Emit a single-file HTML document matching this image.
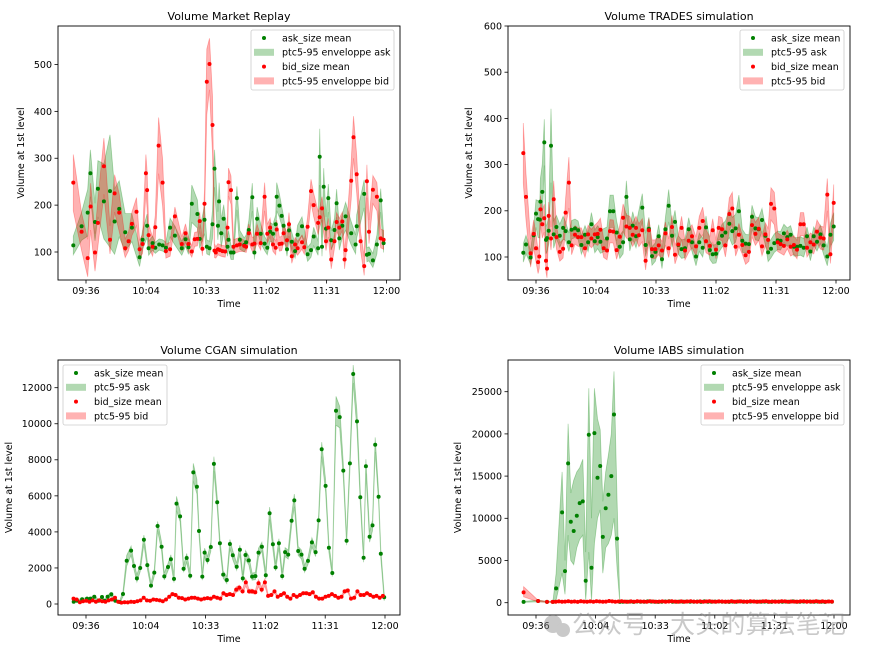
<!DOCTYPE html>
<html><head><meta charset="utf-8">
<style>
html,body{margin:0;padding:0;background:#fff;}
svg{display:block;font-family:"DejaVu Sans","Liberation Sans",sans-serif;}
</style></head>
<body>
<svg id="fig" width="874" height="658" viewBox="0 0 874 658" xmlns="http://www.w3.org/2000/svg"></svg>
<script>
// ---------- shared tick data ----------
const xTickLabels = ['09:36','10:04','10:33','11:02','11:31','12:00'];
const xTickMinutes = [0,28.8,57.6,86.4,115.2,144];

// ---------- Panel 1: Market Replay (minutes after 09:36) ----------
const p1AskMinutes = [-6.1,-2.1,0.8,2.1,4.3,5.7,8.6,11.5,13.7,15.9,18.8,22.0,25.7,27.1,29.3,30.0,31.9,33.2,35.1,36.7,38.3,40.3,42.6,45.9,47.7,49.1,50.7,53.4,54.5,56.8,57.9,59.2,60.6,61.6,63.2,63.8,64.8,66.0,67.8,68.3,69.5,70.7,72.3,73.7,75.8,76.7,78.0,79.7,80.7,82.0,83.7,85.6,86.9,88.2,89.6,90.9,91.4,92.7,93.8,94.7,96.3,97.3,98.6,100.2,101.4,103.5,106.2,107.8,109.1,111.2,112.0,113.1,113.9,115.0,116.1,117.5,119.1,120.1,121.4,122.8,124.4,127.1,129.2,129.7,133.3,134.6,135.6,137.5,139.4,141.2,142.6];
const p1Ask = [114,155,184,268,164,235,208,230,165,192,142,152,89,126,156,108,119,109,116,114,109,152,135,108,127,110,203,181,128,169,111,108,159,278,156,208,140,171,111,126,99,99,215,126,115,121,147,217,99,171,139,118,109,143,139,159,218,199,177,156,106,146,122,102,137,155,95,104,133,108,303,111,239,150,215,125,147,204,129,156,176,140,116,155,224,94,96,82,116,210,119];
const p1AskSpread = [20,30,50,50,40,60,80,120,70,60,40,30,20,20,25,15,15,12,12,12,12,20,20,15,15,15,40,30,20,30,15,15,30,40,30,40,30,30,20,20,15,15,25,20,15,15,20,30,15,25,20,15,15,20,20,20,30,25,20,20,15,20,20,15,20,20,15,15,20,15,60,20,40,25,30,20,25,30,25,25,30,25,20,25,30,15,15,15,20,25,20];
const p1BidMinutes = [-6.1,-2.1,0.8,2.2,4.3,5.7,8.6,11.5,13.7,15.9,18.8,20.4,22.0,24.2,25.7,27.1,28.7,29.3,30.0,31.9,33.2,34.8,36.7,38.3,40.3,42.6,45.9,47.7,49.1,50.7,52.1,53.4,54.5,55.8,56.8,57.9,59.2,60.6,61.6,62.2,63.2,64.1,65.4,66.7,67.8,68.3,69.5,70.7,72.3,73.7,75.8,76.7,78.0,79.7,80.7,82.0,83.7,85.6,86.9,88.2,89.6,90.9,91.4,92.7,93.8,94.7,96.3,97.3,98.6,100.2,101.4,103.5,104.6,106.2,107.8,109.1,111.2,112.0,113.1,115.0,116.1,117.5,119.1,120.1,121.4,122.8,123.9,124.4,127.1,128.2,129.7,131.6,133.3,134.6,135.6,137.5,139.4,141.2,142.6];
const p1Bid = [248,143,87,197,99,162,283,126,225,184,108,123,160,186,106,117,268,232,136,111,153,327,248,102,106,176,117,140,117,101,127,128,166,107,203,463,501,371,103,99,106,104,102,101,152,249,232,111,114,116,113,111,140,116,118,139,119,218,139,152,116,109,148,117,118,140,125,159,91,116,108,121,110,154,230,200,162,174,193,123,152,84,123,164,152,165,84,104,252,345,266,123,70,251,143,233,218,129,126];
const p1BidSpread = [60,40,40,50,40,50,60,30,40,40,20,20,25,30,20,20,40,40,25,20,25,60,50,15,15,20,15,20,15,12,15,15,20,15,30,70,55,60,15,12,12,12,12,12,25,30,30,15,15,15,12,12,20,15,15,20,15,30,20,20,15,15,20,15,15,20,15,25,15,15,15,15,15,20,25,25,25,20,25,20,20,20,15,20,20,20,20,20,40,45,40,20,20,35,25,30,30,20,20];

// ---------- Panel 2: TRADES ----------
const p2AskMinutes = [-6.1,-4.8,-2.6,-1.1,0,1.0,1.8,2.1,3.0,4.0,4.8,5.3,6.1,7.2,8.5,9.8,11.4,13.0,14.2,15.8,17.1,18.7,20.2,21.8,23.5,25.0,26.6,28.2,29.6,30.9,34.1,35.5,37.1,38.7,40.2,41.8,43.4,45.0,46.4,48.0,51.0,52.6,54.2,55.7,57.3,58.9,60.5,62.1,63.7,65.3,66.7,68.3,69.9,71.5,73.3,74.9,76.8,78.4,80.0,81.6,83.4,84.8,86.4,87.7,89.3,90.9,92.8,94.2,95.8,97.4,99.0,100.6,102.2,103.7,105.3,106.9,108.5,110.1,111.4,112.8,114.4,116.0,117.4,119.0,120.6,122.2,123.8,125.3,126.9,128.5,130.1,131.7,133.3,134.9,136.5,138.1,139.8,141.3,142.9];
const p2Ask = [109,127,99,147,194,182,181,220,241,348,137,141,157,341,149,165,146,163,156,132,159,162,158,126,148,132,171,134,143,133,140,199,199,153,122,132,230,138,168,145,207,126,161,102,111,145,95,160,211,146,176,126,117,119,160,132,101,132,120,164,115,106,107,130,146,153,172,156,162,199,135,129,128,187,162,160,180,146,110,118,130,136,135,151,143,148,122,122,124,120,145,112,145,133,149,125,101,148,166];
const p2AskSpread = [20,20,15,20,30,40,40,50,60,50,30,30,30,80,30,25,25,25,20,20,20,20,20,20,20,20,25,25,25,25,25,35,35,25,25,25,35,25,30,25,30,25,25,20,20,25,20,25,35,25,25,20,20,20,25,20,20,20,20,25,20,20,20,20,25,25,30,30,30,35,25,20,20,25,25,25,25,20,20,20,20,20,20,20,20,20,20,20,20,20,20,20,20,20,20,20,20,25,30];
const p2BidMinutes = [-6.1,-4.8,-2.6,-1.1,0,1.0,1.6,2.1,3.0,4.0,4.8,5.3,6.1,7.2,8.5,9.8,11.4,13.0,14.2,15.8,17.1,18.7,20.2,21.8,23.5,25.0,26.6,28.2,29.6,30.9,32.5,34.1,35.5,37.1,38.7,40.2,41.8,43.4,45.0,46.4,48.0,49.4,51.0,52.6,54.2,55.7,57.3,58.9,60.5,62.1,63.7,65.3,66.7,68.3,69.9,71.5,73.3,74.9,76.8,78.4,80.0,81.6,83.4,84.8,86.4,87.7,89.3,90.9,92.8,94.2,95.8,97.4,99.0,100.6,102.2,103.7,105.3,106.9,108.5,110.1,111.4,112.8,114.4,116.0,117.4,119.0,120.6,122.2,123.8,125.3,126.9,128.5,130.1,131.7,133.3,134.9,136.5,138.1,139.8,141.3,142.9];
const p2Bid = [325,230,108,150,119,89,101,203,171,184,92,75,189,140,225,143,111,118,196,261,125,148,143,143,119,149,140,149,150,159,119,114,156,155,115,144,185,166,163,148,163,147,158,92,158,117,117,125,114,151,119,165,105,127,163,114,135,145,123,163,178,134,124,158,116,163,160,125,193,205,122,148,126,104,111,169,150,161,123,149,137,215,205,132,128,124,138,122,126,116,171,171,120,132,127,155,142,140,235,106,217];
const p2BidSpread = [65,50,30,30,30,25,25,30,30,30,25,20,30,25,40,25,20,20,30,55,20,20,20,20,20,20,20,20,25,25,20,20,25,25,20,25,30,25,25,25,25,25,25,20,25,20,20,20,20,25,20,25,20,20,25,20,25,25,20,25,30,25,20,25,20,25,25,25,35,35,20,25,20,20,20,25,25,25,20,25,25,35,35,20,20,20,20,20,20,20,25,25,20,20,20,25,25,25,35,20,40];

// ---------- Panel 3: CGAN ----------
const p3AskMinutes = [-5.9,-4.3,-1.9,0.5,2.1,4.0,6.1,7.7,9.0,10.4,12.2,14.1,16.2,17.8,19.6,21.7,23.1,24.5,26.1,27.9,29.5,31.3,32.9,34.5,36.4,37.7,39.5,40.9,42.4,43.6,45.3,47.0,48.5,50.2,51.7,53.4,54.4,56.0,57.1,58.5,60.1,61.6,63.2,64.5,66.1,67.8,69.3,70.7,72.6,74.1,75.5,76.8,78.4,80.0,81.6,83.1,84.7,86.6,88.4,90.0,91.3,92.9,94.5,95.9,97.4,99.0,100.3,102.2,103.8,105.3,106.9,108.8,110.6,112.0,113.5,115.4,117.0,118.6,120.4,122.2,123.9,125.5,127.1,128.7,130.5,132.1,133.7,134.8,136.6,138.0,139.3,140.9,142.0,143.6];
const p3Ask = [130,185,260,300,300,400,185,390,185,400,540,185,110,555,2400,2960,2110,1420,2000,3570,2160,1020,1740,4330,3180,1530,2050,2480,1390,5570,4860,1960,2550,1570,7300,6510,4050,1520,2850,2440,3160,7770,5640,3370,1630,1330,3330,2700,2070,3010,1420,2720,2420,1520,1550,2850,3180,1590,5030,3310,2030,3370,1550,2880,2740,4620,5750,2940,2740,1960,2390,3420,2880,4640,8580,6550,3120,1720,10720,10370,7400,3510,7800,12760,10130,5920,2570,7640,3730,4360,8840,5950,2790,370];
const p3AskSpread = [50,50,50,50,50,80,50,80,50,80,100,60,60,150,300,250,200,200,200,250,200,150,200,250,250,200,200,250,200,400,300,200,250,200,500,400,250,200,250,200,250,400,300,250,200,200,250,250,200,250,200,250,250,200,200,250,250,200,350,300,200,250,200,250,250,300,350,250,250,200,200,250,250,300,400,350,250,200,800,600,400,250,400,500,500,350,250,400,300,300,400,300,250,200];
const p3Bid = [300,250,100,150,180,120,200,130,200,150,130,200,250,350,120,80,100,90,130,110,150,200,350,200,180,250,230,200,150,250,400,550,500,350,330,250,300,350,350,300,250,300,330,300,400,350,300,600,500,550,500,800,900,700,1200,700,700,650,1150,800,1200,450,500,700,400,500,600,400,300,500,400,500,600,600,550,650,400,300,300,400,450,550,450,350,400,700,750,300,350,700,500,500,600,500,400,450,350,450];
const p3BidSpread = [60,60,40,40,40,40,40,40,40,40,40,40,50,50,40,30,30,30,40,40,40,50,60,50,50,50,50,50,40,50,60,80,80,60,60,50,50,60,60,50,50,50,60,50,60,60,50,100,80,80,80,150,150,120,200,120,120,100,200,150,200,80,80,100,60,80,80,60,50,80,60,80,80,80,80,80,60,50,50,60,60,80,60,60,60,100,100,50,60,100,80,80,80,80,60,60,60,60];

// ---------- Panel 4: IABS ----------
const p4AskMinutes = [-6,1,5.3,8.2,9.7,12.6,14,15.5,16.8,18.2,19.7,21.1,22.6,24,25.5,26.8,28.2,29.7,31,32.3,33.7,35,36.4,37.7,39.2,40.5];
const p4Ask = [100,200,100,100,1700,10700,3750,16500,9600,8500,10300,11800,12000,2600,19900,4150,20100,14800,16200,7800,11200,12800,15000,22300,7600,100];
const p4AskLo = [50,100,50,50,300,3500,1000,8000,5000,4500,6500,7500,8000,200,6000,200,7000,10000,11000,3500,6500,7000,8000,10000,4000,50];
const p4AskHi = [150,300,150,200,3500,15500,5000,21200,13000,14500,15500,16000,17000,6000,25400,10000,25400,21800,20500,12000,15500,17500,20000,27400,12000,200];
const p4AskTail = [120,110,130,100,140,120,110,150,130,120,100,110,140,160,120,110,130,120,140,110,120,130,100,150,120,110,130,140,120,110,100,130,120,150,110,120,130,140,120,110,130,120,100,140,120,110,130,120,150,110,120,130,140,120,110,130,120,100,140,120];
const p4BidMinutes = [-6,1,5.3];
const p4BidHead = [1220,200,100];
const p4BidHeadLo = [700,100,50];
const p4BidHeadHi = [1900,300,150];
const p4BidTail = [100,120,150,110,130,160,120,140,100,170,130,120,150,110,180,140,120,130,200,150,110,140,160,130,120,150,110,170,140,130,120,160,140,110,130,150,120,140,160,130,110,150,120,140,170,130,120,150,110,140,160,130,120,150,140,110,130,170,120,140,150,130,110,160,140,120,130,150,170,120,140,110,130,160,150,120,140,130,110,150,160,120,140,130,170,120,150,110,140,130];

// ---------- layout ----------
const NS = 'http://www.w3.org/2000/svg';
const svg = document.getElementById('fig');
function mk(tag, attrs, parent) {
  const e = document.createElementNS(NS, tag);
  for (const k in attrs) e.setAttribute(k, attrs[k]);
  (parent || svg).appendChild(e);
  return e;
}
const GREEN = '#008000', RED = '#ff0000';

const panels = [
  {key:'market-replay', title:'Volume Market Replay', L:58,R:400,T:26,B:280, xa:86,xb:386.5, va:100,pa:252,vb:500,pb:64.5,
   yt:[100,200,300,400,500], ylx:24, legend:{x:251,y:30,w:143,lab:['ask_size mean','ptc5-95 enveloppe ask','bid_size mean','ptc5-95 enveloppe bid']}},
  {key:'trades', title:'Volume TRADES simulation', L:508,R:850,T:26,B:280, xa:536,xb:836, va:100,pa:257,vb:600,pb:26,
   yt:[100,200,300,400,500,600], ylx:472, legend:{x:740,y:30,w:104,lab:['ask_size mean','ptc5-95 ask','bid_size mean','ptc5-95 bid']}},
  {key:'cgan', title:'Volume CGAN simulation', L:58,R:400,T:360,B:615, xa:86,xb:385, va:0,pa:604,vb:12000,pb:387.7,
   yt:[0,2000,4000,6000,8000,10000,12000], ylx:12, legend:{x:63,y:365,w:104,lab:['ask_size mean','ptc5-95 ask','bid_size mean','ptc5-95 bid']}},
  {key:'iabs', title:'Volume IABS simulation', L:508,R:850,T:360,B:615, xa:536,xb:834, va:0,pa:602.7,vb:25000,pb:391.7,
   yt:[0,5000,10000,15000,20000,25000], ylx:461, legend:{x:701,y:365,w:143,lab:['ask_size mean','ptc5-95 enveloppe ask','bid_size mean','ptc5-95 enveloppe bid']}}
];

function evenMinutes(n){ const a=[]; for(let i=0;i<n;i++) a.push(-6+i*149/(n-1)); return a; }
function tailMinutes(n, start, end){ const a=[]; for(let i=0;i<n;i++) a.push(start+i*(end-start)/(n-1)); return a; }

function drawBand(g, xs, lo, hi, color, p, name) {
  let pts = [];
  for (let i=0;i<xs.length;i++) pts.push(p.x(xs[i]).toFixed(1)+','+p.y(hi[i]).toFixed(1));
  for (let i=xs.length-1;i>=0;i--) pts.push(p.x(xs[i]).toFixed(1)+','+p.y(lo[i]).toFixed(1));
  const poly = mk('polygon',{points:pts.join(' '),fill:color,'fill-opacity':0.3,stroke:color,'stroke-opacity':0.3,'stroke-width':0.8},g);
  
  
}
function drawDots(g, xs, vals, color, p, name) {
  const grp = mk('g',{},g);
  
  
  for (let i=0;i<xs.length;i++) {
    const c = mk('circle',{cx:p.x(xs[i]).toFixed(1),cy:p.y(vals[i]).toFixed(1),r:2,fill:color},grp);
    
    
  }
}
function spreadLo(v,s){ return v.map((x,i)=>x-s[i]); }
function spreadHi(v,s){ return v.map((x,i)=>x+s[i]); }

panels.forEach((p, idx) => {
  p.x = t => p.xa + t*(p.xb-p.xa)/144;
  p.y = v => p.pa + (v-p.va)*(p.pb-p.pa)/(p.vb-p.va);
  const g = mk('g',{});
  
  
  const cid = 'clip'+idx;
  const cp = mk('clipPath',{id:cid},g);
  mk('rect',{x:p.L,y:p.T,width:p.R-p.L,height:p.B-p.T},cp);
  const plot = mk('g',{'clip-path':'url(#'+cid+')'},g);
  
  

  if (idx===0) {
    drawBand(plot, p1AskMinutes, spreadLo(p1Ask,p1AskSpread), spreadHi(p1Ask,p1AskSpread), GREEN, p, 'ask-envelope');
    drawBand(plot, p1BidMinutes, spreadLo(p1Bid,p1BidSpread), spreadHi(p1Bid,p1BidSpread), RED, p, 'bid-envelope');
    drawDots(plot, p1AskMinutes, p1Ask, GREEN, p, 'ask-mean');
    drawDots(plot, p1BidMinutes, p1Bid, RED, p, 'bid-mean');
  } else if (idx===1) {
    drawBand(plot, p2AskMinutes, spreadLo(p2Ask,p2AskSpread), spreadHi(p2Ask,p2AskSpread), GREEN, p, 'ask-envelope');
    drawBand(plot, p2BidMinutes, spreadLo(p2Bid,p2BidSpread), spreadHi(p2Bid,p2BidSpread), RED, p, 'bid-envelope');
    drawDots(plot, p2AskMinutes, p2Ask, GREEN, p, 'ask-mean');
    drawDots(plot, p2BidMinutes, p2Bid, RED, p, 'bid-mean');
  } else if (idx===2) {
    const tb = evenMinutes(p3Bid.length);
    drawBand(plot, p3AskMinutes, spreadLo(p3Ask,p3AskSpread), spreadHi(p3Ask,p3AskSpread), GREEN, p, 'ask-envelope');
    drawBand(plot, tb, spreadLo(p3Bid,p3BidSpread), spreadHi(p3Bid,p3BidSpread), RED, p, 'bid-envelope');
    drawDots(plot, p3AskMinutes, p3Ask, GREEN, p, 'ask-mean');
    drawDots(plot, tb, p3Bid, RED, p, 'bid-mean');
  } else {
    const tt = tailMinutes(p4AskTail.length, 42, 143);
    const askT = p4AskMinutes.concat(tt);
    const askV = p4Ask.concat(p4AskTail);
    const askLo = p4AskLo.concat(p4AskTail.map(v=>v-60));
    const askHi = p4AskHi.concat(p4AskTail.map(v=>v+60));
    const bt = tailMinutes(p4BidTail.length, 8, 143);
    const bidT = p4BidMinutes.concat(bt);
    const bidV = p4BidHead.concat(p4BidTail);
    const bidLo = p4BidHeadLo.concat(p4BidTail.map(v=>v-60));
    const bidHi = p4BidHeadHi.concat(p4BidTail.map(v=>v+60));
    drawBand(plot, askT, askLo, askHi, GREEN, p, 'ask-envelope');
    drawBand(plot, bidT, bidLo, bidHi, RED, p, 'bid-envelope');
    drawDots(plot, askT, askV, GREEN, p, 'ask-mean');
    drawDots(plot, bidT, bidV, RED, p, 'bid-mean');
  }

  const fr = mk('rect',{x:p.L,y:p.T,width:p.R-p.L,height:p.B-p.T,fill:'none',stroke:'#000','stroke-width':0.9},g);
  
  

  p.yt.forEach(v => {
    const yy = p.y(v);
    mk('line',{x1:p.L-3.5,x2:p.L,y1:yy,y2:yy,stroke:'#000','stroke-width':0.8},g);
    const t = mk('text',{x:p.L-6,y:yy+3.4,'font-size':'9.5','text-anchor':'end',fill:'#000'},g);
    t.textContent = String(v);
    
    
  });
  xTickMinutes.forEach((m,i) => {
    const xx = p.x(m);
    mk('line',{x1:xx,x2:xx,y1:p.B,y2:p.B+3.5,stroke:'#000','stroke-width':0.8},g);
    const t = mk('text',{x:xx,y:p.B+14,'font-size':'9.5','text-anchor':'middle',fill:'#000'},g);
    t.textContent = xTickLabels[i];
    
    
  });
  const cx = (p.L+p.R)/2;
  const tt = mk('text',{x:cx,y:p.T-6,'font-size':'11','text-anchor':'middle',fill:'#000'},g);
  tt.textContent = p.title;
  
  
  const xl = mk('text',{x:cx,y:p.B+27,'font-size':'9.5','text-anchor':'middle',fill:'#000'},g);
  xl.textContent = 'Time';
  
  
  const cy = (p.T+p.B)/2;
  const yl = mk('text',{x:p.ylx,y:cy,'font-size':'9.5','text-anchor':'middle',fill:'#000',transform:'rotate(-90 '+p.ylx+' '+cy+')'},g);
  yl.textContent = 'Volume at 1st level';
  
  

  const lg = mk('g',{},g);
  
  
  const L = p.legend;
  mk('rect',{x:L.x,y:L.y,width:L.w,height:60,rx:2,fill:'#fff','fill-opacity':0.85,stroke:'#ccc','stroke-width':0.8},lg);
  const cols = [GREEN,GREEN,RED,RED];
  L.lab.forEach((lab,i) => {
    const ry = L.y + 8 + i*14.3;
    if (i%2===0) {
      mk('circle',{cx:L.x+13,cy:ry,r:2,fill:cols[i]},lg);
    } else {
      mk('rect',{x:L.x+3,y:ry-3.5,width:20,height:7,fill:cols[i],'fill-opacity':0.3},lg);
    }
    const t = mk('text',{x:L.x+31,y:ry+3.4,'font-size':'9.5',fill:'#000'},lg);
    t.textContent = lab;
    
    
  });
});

// watermark
const wm = mk('g',{opacity:0.45});


mk('circle',{cx:553,cy:624,r:9,fill:'#888'},wm);
mk('circle',{cx:563,cy:630,r:7,fill:'#888'},wm);
const wt = mk('text',{x:572,y:633,'font-size':'25',fill:'#888','font-family':'"Liberation Sans","Noto Sans CJK SC",sans-serif'},wm);
wt.textContent = '公众号 · 大头的算法笔记';
wt.setAttribute('textLength','274');
</script>
</body></html>
